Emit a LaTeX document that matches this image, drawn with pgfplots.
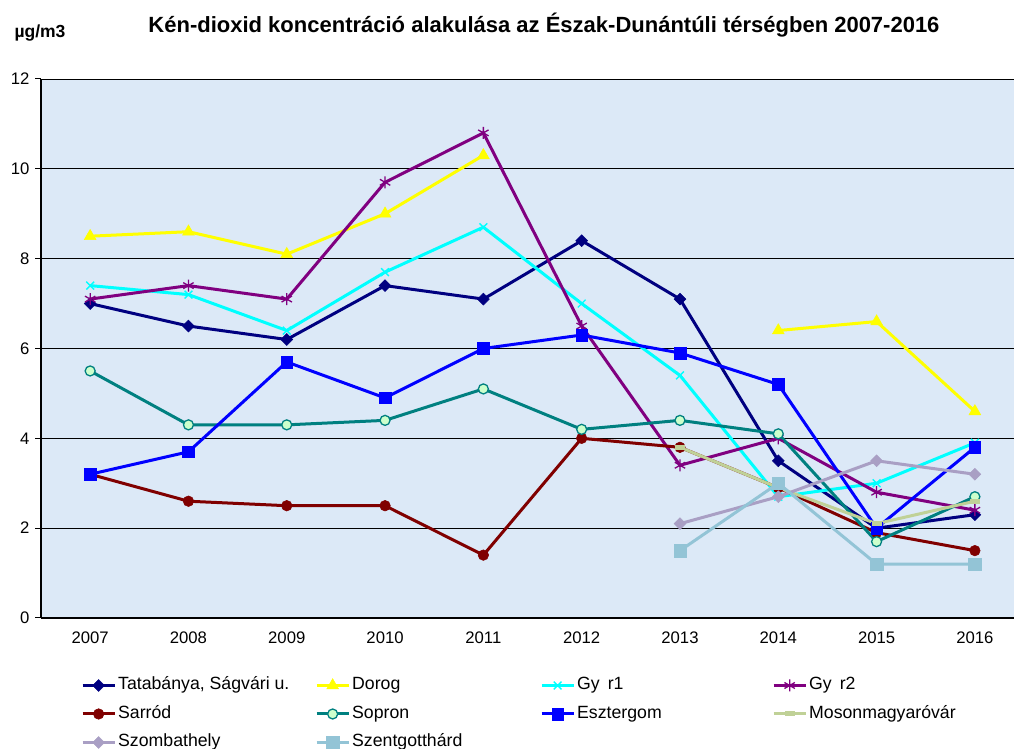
\documentclass[border=0pt]{standalone}
\usepackage{fontspec}
\setmainfont{Liberation Sans}
\usepackage{pgfplots}
\pgfplotsset{compat=1.18}
\definecolor{cNavy}{HTML}{000080}
\definecolor{cYellow}{HTML}{FFFF00}
\definecolor{cCyan}{HTML}{00FFFF}
\definecolor{cPurple}{HTML}{800080}
\definecolor{cDarkRed}{HTML}{800000}
\definecolor{cTeal}{HTML}{008080}
\definecolor{cBlue}{HTML}{0000FF}
\definecolor{cKhaki}{HTML}{C0D197}
\definecolor{cLilac}{HTML}{A99FC4}
\definecolor{cLightBlue}{HTML}{93C4D6}
\definecolor{cMint}{HTML}{CCFFCC}
\definecolor{cBg}{HTML}{DCE9F7}
\begin{document}
\begin{tikzpicture}[ln/.style={line width=3pt}]
\useasboundingbox (0,0) rectangle (1014pt,749pt);
\node[font=\bfseries\fontsize{22}{26}\selectfont] at (544pt,724pt) {Kén-dioxid koncentráció alakulása az Észak-Dunántúli térségben 2007-2016};
\node[font=\bfseries\fontsize{17.5}{20}\selectfont] at (40pt,716pt) {µg/m3};
\begin{axis}[
  at={(41pt,131pt)}, anchor=south west,
  scale only axis, width=973pt, height=539pt,
  xmin=-0.5, xmax=9.398, ymin=0, ymax=12,
  axis x line*=bottom, axis y line*=left,
  axis line style={line width=1.2pt, black},
  axis background/.style={fill=cBg},
  xtick={0,...,9},
  xticklabels={2007,2008,2009,2010,2011,2012,2013,2014,2015,2016},
  x tick style={draw=none},
  extra x ticks={-0.5,0.5,1.5,2.5,3.5,4.5,5.5,6.5,7.5,8.5},
  extra x tick labels={},
  extra x tick style={tick style={draw=black, line width=1pt}, major tick length=6pt},
  ytick={0,2,...,12},
  ymajorgrids, grid style={black, line width=0.9pt},
  y tick style={black, line width=1pt}, major tick length=6pt,
  tick align=outside,
  /pgf/number format/assume math mode=true,
  ticklabel style={font=\fontsize{16.7}{20}\selectfont},
  xticklabel style={yshift=-4pt},
  yticklabel style={xshift=-2pt},
  unbounded coords=jump,
  legend image code/.code={\draw[mark repeat=2,mark phase=2] plot coordinates {(0pt,0pt) (16pt,0pt) (32pt,0pt)};},
  legend columns=4,
  legend style={at={(0.038,-0.1781)}, anchor=west, draw=none, fill=none,
    font=\fontsize{17.7}{20}\selectfont,
    row sep=7.5pt,
    nodes={inner sep=2pt, text height=13pt, text depth=4pt},
    /tikz/every even column/.append style={column sep=0pt},
    cells={anchor=west}},
]
\addplot[ln, color=cNavy, mark=square*, mark size=4.2pt, mark options={rotate=45, line width=0.5pt}]
 coordinates {(0,7.0) (1,6.5) (2,6.2) (3,7.4) (4,7.1) (5,8.4) (6,7.1) (7,3.5) (8,2.0) (9,2.3)};
\addlegendentry{\makebox[195pt][l]{Tatabánya, Ságvári u.}}
\addplot[ln, color=cYellow, mark=triangle*, mark size=6.8pt, mark options={line width=0.5pt}]
 coordinates {(0,8.5) (1,8.6) (2,8.1) (3,9.0) (4,10.3) (5,nan) (6,nan) (7,6.4) (8,6.6) (9,4.6)};
\addlegendentry{\makebox[186pt][l]{Dorog}}
\addplot[ln, color=cCyan, mark=x, mark size=5.5pt, mark options={line width=1.4pt}]
 coordinates {(0,7.4) (1,7.2) (2,6.4) (3,7.7) (4,8.7) (5,7.0) (6,5.4) (7,2.7) (8,3.0) (9,3.9)};
\addlegendentry{\makebox[193pt][l]{Gy\hspace{8pt}r1}}
\addplot[ln, color=cPurple, mark=asterisk, mark size=6pt, mark options={line width=1.3pt}]
 coordinates {(0,7.1) (1,7.4) (2,7.1) (3,9.7) (4,10.8) (5,6.5) (6,3.4) (7,4.0) (8,2.8) (9,2.4)};
\addlegendentry{\makebox[150pt][l]{Gy\hspace{8pt}r2}}
\addplot[ln, color=cDarkRed, mark=*, mark size=5.3pt, mark options={line width=0.5pt}]
 coordinates {(0,3.2) (1,2.6) (2,2.5) (3,2.5) (4,1.4) (5,4.0) (6,3.8) (7,2.9) (8,1.9) (9,1.5)};
\addlegendentry{\makebox[195pt][l]{Sarród}}
\addplot[ln, color=cTeal, mark=*, mark size=5pt, mark options={fill=cMint, draw=cTeal, line width=1.3pt}]
 coordinates {(0,5.5) (1,4.3) (2,4.3) (3,4.4) (4,5.1) (5,4.2) (6,4.4) (7,4.1) (8,1.7) (9,2.7)};
\addlegendentry{\makebox[186pt][l]{Sopron}}
\addplot[ln, color=cBlue, mark=square*, mark size=5.8pt, mark options={line width=0.5pt}]
 coordinates {(0,3.2) (1,3.7) (2,5.7) (3,4.9) (4,6.0) (5,6.3) (6,5.9) (7,5.2) (8,2.0) (9,3.8)};
\addlegendentry{\makebox[193pt][l]{Esztergom}}
\addplot[ln, color=cKhaki, mark=-, mark size=5pt, mark options={line width=5pt}, mark indices={}]
 coordinates {(6,3.8) (7,2.9) (8,2.1) (9,2.6)};
\addlegendentry{\makebox[150pt][l]{Mosonmagyaróvár}}
\addplot[ln, color=cLilac, mark=square*, mark size=4.2pt, mark options={rotate=45, line width=0.5pt}]
 coordinates {(6,2.1) (7,2.7) (8,3.5) (9,3.2)};
\addlegendentry{\makebox[195pt][l]{Szombathely}}
\addplot[ln, color=cLightBlue, mark=square*, mark size=6.2pt, mark options={line width=0.5pt}]
 coordinates {(6,1.5) (7,3.0) (8,1.2) (9,1.2)};
\addlegendentry{\makebox[186pt][l]{Szentgotthárd}}
\end{axis}
\end{tikzpicture}
\end{document}
